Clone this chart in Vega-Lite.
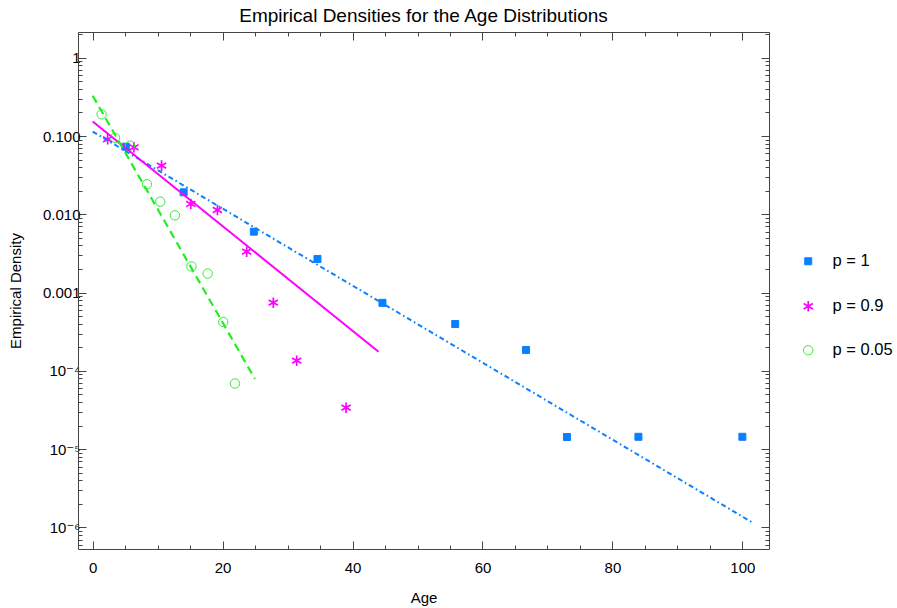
{
  "$schema": "https://vega.github.io/schema/vega-lite/v6.json",
  "width": 691,
  "height": 517,
  "autosize": "none",
  "padding": {"left": 78, "top": 32, "right": 128, "bottom": 59},
  "background": "white",
  "title": {
    "text": "Empirical Densities for the Age Distributions",
    "font": "Liberation Sans",
    "fontSize": 19,
    "fontWeight": "normal",
    "color": "black",
    "anchor": "middle",
    "offset": 6
  },
  "config": {
    "view": {"stroke": null},
    "font": "Liberation Sans",
    "axis": {
      "grid": false,
      "domainColor": "#444",
      "tickColor": "#444",
      "labelColor": "black",
      "labelFont": "Liberation Sans, DejaVu Sans",
      "labelFontSize": 15,
      "titleFont": "Liberation Sans",
      "titleFontSize": 15,
      "titleFontWeight": "normal",
      "titleColor": "black"
    }
  },
  "data": {
    "values": [
      {"kind": "pt", "series": "p = 1", "age": 5.1, "density": 0.073},
      {"kind": "pt", "series": "p = 1", "age": 14.0, "density": 0.0191},
      {"kind": "pt", "series": "p = 1", "age": 24.8, "density": 0.0060},
      {"kind": "pt", "series": "p = 1", "age": 34.6, "density": 0.00269},
      {"kind": "pt", "series": "p = 1", "age": 44.6, "density": 0.00074},
      {"kind": "pt", "series": "p = 1", "age": 55.8, "density": 0.000397},
      {"kind": "pt", "series": "p = 1", "age": 66.7, "density": 0.000185},
      {"kind": "pt", "series": "p = 1", "age": 73.0, "density": 0.0000143},
      {"kind": "pt", "series": "p = 1", "age": 84.0, "density": 0.0000144},
      {"kind": "pt", "series": "p = 1", "age": 100.0, "density": 0.0000144},
      {"kind": "pt", "series": "p = 0.9", "age": 2.3, "density": 0.0907},
      {"kind": "pt", "series": "p = 0.9", "age": 6.35, "density": 0.0718},
      {"kind": "pt", "series": "p = 0.9", "age": 10.6, "density": 0.0418},
      {"kind": "pt", "series": "p = 0.9", "age": 15.1, "density": 0.01355},
      {"kind": "pt", "series": "p = 0.9", "age": 19.2, "density": 0.01135},
      {"kind": "pt", "series": "p = 0.9", "age": 23.7, "density": 0.00333},
      {"kind": "pt", "series": "p = 0.9", "age": 27.8, "density": 0.000743},
      {"kind": "pt", "series": "p = 0.9", "age": 31.4, "density": 0.000135},
      {"kind": "pt", "series": "p = 0.9", "age": 39.0, "density": 0.0000339},
      {"kind": "pt", "series": "p = 0.05", "age": 1.38, "density": 0.189},
      {"kind": "pt", "series": "p = 0.05", "age": 3.43, "density": 0.095},
      {"kind": "pt", "series": "p = 0.05", "age": 5.74, "density": 0.0752},
      {"kind": "pt", "series": "p = 0.05", "age": 8.35, "density": 0.0242},
      {"kind": "pt", "series": "p = 0.05", "age": 10.4, "density": 0.0145},
      {"kind": "pt", "series": "p = 0.05", "age": 12.66, "density": 0.0097},
      {"kind": "pt", "series": "p = 0.05", "age": 15.2, "density": 0.00216},
      {"kind": "pt", "series": "p = 0.05", "age": 17.7, "density": 0.00175},
      {"kind": "pt", "series": "p = 0.05", "age": 20.1, "density": 0.000421},
      {"kind": "pt", "series": "p = 0.05", "age": 21.9, "density": 0.000069},
      {"kind": "fit", "series": "p = 1", "age": 0, "density": 0.1138},
      {"kind": "fit", "series": "p = 1", "age": 101.6, "density": 0.00000115},
      {"kind": "fit", "series": "p = 0.9", "age": 0, "density": 0.153},
      {"kind": "fit", "series": "p = 0.9", "age": 44.0, "density": 0.000176},
      {"kind": "fit", "series": "p = 0.05", "age": 0, "density": 0.327},
      {"kind": "fit", "series": "p = 0.05", "age": 24.97, "density": 0.000079}
    ]
  },
  "layer": [
    {
      "transform": [{"filter": "datum.kind == 'pt'"}],
      "mark": {"type": "point", "opacity": 1},
      "encoding": {
        "x": {
          "field": "age",
          "type": "quantitative",
          "scale": {"domain": [-2.26, 104.1], "nice": false, "zero": false},
          "axis": {
            "orient": "bottom",
            "title": "Age",
            "titlePadding": 15,
            "values": [0, 5, 10, 15, 20, 25, 30, 35, 40, 45, 50, 55, 60, 65, 70, 75, 80, 85, 90, 95, 100],
            "labelExpr": "datum.value % 20 == 0 ? datum.label : ''",
            "tickSize": {"condition": {"test": "datum.value % 20 == 0", "value": -8}, "value": -4},
            "labelPadding": 19,
            "labelFlush": false
          }
        },
        "y": {
          "field": "density",
          "type": "quantitative",
          "scale": {"type": "log", "domain": [5.31e-7, 2.13], "nice": false},
          "axis": {
            "orient": "left",
            "title": "Empirical Density",
            "titlePadding": 19,
            "values": [6e-7, 7e-7, 8e-7, 9e-7, 1e-6, 2e-6, 3e-6, 4e-6, 5e-6, 6e-6, 7e-6, 8e-6, 9e-6, 1e-5, 2e-5, 3e-5, 4e-5, 5e-5, 6e-5, 7e-5, 8e-5, 9e-5, 1e-4, 2e-4, 3e-4, 4e-4, 5e-4, 6e-4, 7e-4, 8e-4, 9e-4, 0.001, 0.002, 0.003, 0.004, 0.005, 0.006, 0.007, 0.008, 0.009, 0.01, 0.02, 0.03, 0.04, 0.05, 0.06, 0.07, 0.08, 0.09, 0.1, 0.2, 0.3, 0.4, 0.5, 0.6, 0.7, 0.8, 0.9, 1, 2],
            "labelExpr": "datum.value == 1 ? '1' : datum.value == 0.1 ? '0.100' : datum.value == 0.01 ? '0.010' : datum.value == 0.001 ? '0.001' : datum.value == 1e-4 ? '10⁻⁴' : datum.value == 1e-5 ? '10⁻⁵' : datum.value == 1e-6 ? '10⁻⁶' : ''",
            "tickSize": {"condition": {"test": "abs(log(datum.value) / LN10 - round(log(datum.value) / LN10)) < 1e-9", "value": -8}, "value": -4},
            "labelPadding": 6
          }
        },
        "shape": {
          "field": "series",
          "type": "nominal",
          "scale": {
            "domain": ["p = 1", "p = 0.9", "p = 0.05"],
            "range": ["square", "M0,-1L0,1M-0.87,-0.5L0.87,0.5M-0.87,0.5L0.87,-0.5", "circle"]
          },
          "legend": {
            "title": null,
            "orient": "none",
            "legendX": 722,
            "legendY": 221,
            "labelFont": "Liberation Sans",
            "labelFontSize": 16.5,
            "labelColor": "black",
            "labelOffset": 16,
            "rowPadding": 27
          }
        },
        "stroke": {
          "field": "series",
          "type": "nominal",
          "scale": {"domain": ["p = 1", "p = 0.9", "p = 0.05"], "range": ["#0a80ff", "#ff00ff", "#33ee33"]}
        },
        "fill": {
          "field": "series",
          "type": "nominal",
          "scale": {"domain": ["p = 1", "p = 0.9", "p = 0.05"], "range": ["#0a80ff", "transparent", "transparent"]}
        },
        "size": {
          "field": "series",
          "type": "nominal",
          "scale": {"type": "ordinal", "domain": ["p = 1", "p = 0.9", "p = 0.05"], "range": [49, 112, 88]}
        },
        "strokeWidth": {
          "field": "series",
          "type": "nominal",
          "scale": {"type": "ordinal", "domain": ["p = 1", "p = 0.9", "p = 0.05"], "range": [1, 1.7, 1]}
        }
      }
    },
    {
      "transform": [{"filter": "datum.kind == 'fit' && datum.series == 'p = 1'"}],
      "mark": {"type": "line", "color": "#0a80ff", "strokeWidth": 2, "strokeDash": [5, 3, 1.6, 3]},
      "encoding": {
        "x": {
          "field": "age",
          "type": "quantitative",
          "axis": {
            "orient": "top",
            "title": null,
            "labels": false,
            "values": [0, 5, 10, 15, 20, 25, 30, 35, 40, 45, 50, 55, 60, 65, 70, 75, 80, 85, 90, 95, 100],
            "tickSize": {"condition": {"test": "datum.value % 20 == 0", "value": -8}, "value": -4}
          }
        },
        "y": {
          "field": "density",
          "type": "quantitative",
          "axis": {
            "orient": "right",
            "title": null,
            "labels": false,
            "values": [6e-7, 7e-7, 8e-7, 9e-7, 1e-6, 2e-6, 3e-6, 4e-6, 5e-6, 6e-6, 7e-6, 8e-6, 9e-6, 1e-5, 2e-5, 3e-5, 4e-5, 5e-5, 6e-5, 7e-5, 8e-5, 9e-5, 1e-4, 2e-4, 3e-4, 4e-4, 5e-4, 6e-4, 7e-4, 8e-4, 9e-4, 0.001, 0.002, 0.003, 0.004, 0.005, 0.006, 0.007, 0.008, 0.009, 0.01, 0.02, 0.03, 0.04, 0.05, 0.06, 0.07, 0.08, 0.09, 0.1, 0.2, 0.3, 0.4, 0.5, 0.6, 0.7, 0.8, 0.9, 1, 2],
            "tickSize": {"condition": {"test": "abs(log(datum.value) / LN10 - round(log(datum.value) / LN10)) < 1e-9", "value": -8}, "value": -4}
          }
        }
      }
    },
    {
      "transform": [{"filter": "datum.kind == 'fit' && datum.series == 'p = 0.9'"}],
      "mark": {"type": "line", "color": "#ff00ff", "strokeWidth": 2},
      "encoding": {
        "x": {"field": "age", "type": "quantitative", "axis": null},
        "y": {"field": "density", "type": "quantitative", "axis": null}
      }
    },
    {
      "transform": [{"filter": "datum.kind == 'fit' && datum.series == 'p = 0.05'"}],
      "mark": {"type": "line", "color": "#22ee22", "strokeWidth": 2.2, "strokeDash": [8, 5]},
      "encoding": {
        "x": {"field": "age", "type": "quantitative", "axis": null},
        "y": {"field": "density", "type": "quantitative", "axis": null}
      }
    }
  ],
  "resolve": {"axis": {"x": "independent", "y": "independent"}}
}
